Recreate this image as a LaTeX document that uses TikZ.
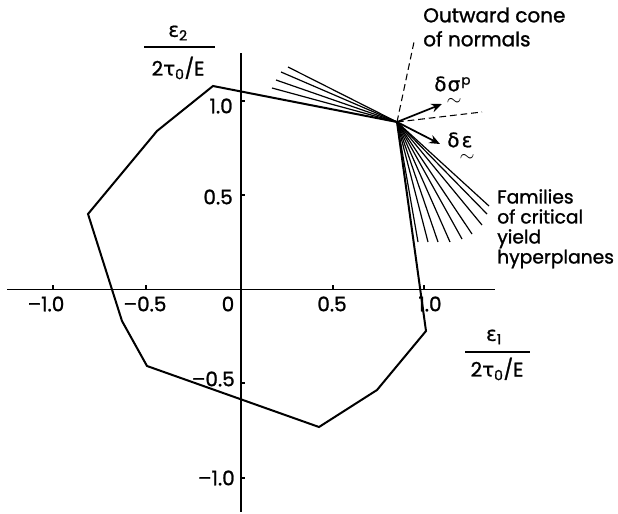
\documentclass[tikz,border=0pt]{standalone}
\usepackage{amsmath}
\usepackage{fontspec}
\setmainfont{Poppins}[FakeBold=1.2]
\newfontfamily\gr{DejaVu Sans}[FakeBold=0.8]
\usetikzlibrary{arrows.meta}
\newcommand{\undertilde}[1]{\ensuremath{\underset{\raisebox{-2pt}{$\textstyle\sim$}}{\hbox{#1}}}}
\begin{document}
\begin{tikzpicture}[x=0.75pt,y=-0.75pt,
  axis/.style={line width=0.8pt},
  tickmark/.style={line width=0.8pt},
  poly/.style={line width=1.5pt, line join=miter},
  fan/.style={line width=0.9pt},
  cone/.style={dash pattern=on 5pt off 3pt, line width=0.8pt},
  vec/.style={-{Stealth[length=8pt,width=6.5pt]}, line width=1.3pt},
  lbl/.style={font=\fontsize{15}{18}\selectfont, inner sep=0pt},
  num/.style={font=\fontsize{15}{18}\selectfont, inner sep=0pt}]
\useasboundingbox (0,0) rectangle (618,514);
% axes
\coordinate (xl) at (7,289.5);
\coordinate (xr) at (495,289.5);
\coordinate (yt) at (241,53);
\coordinate (yb) at (241,512);
\draw[axis] (xl) -- (xr);
\draw[axis] (yt) -- (yb);
% ticks
\foreach \x in {53,146,333,424} \draw[tickmark] (\x,289.5) -- ++(0,-5);
\foreach \y in {101,195,383,478} \draw[tickmark] (241,\y) -- ++(4,0);
% tick labels
\node[num] (xm10) at (46,304) {–1.0};
\node[num] (xm05) at (145,304) {–0.5};
\node[num] (x0) at (228,304) {0};
\node[num] (x05) at (332,304) {0.5};
\node[num] (x10) at (430,304) {1.0};
\node[num, anchor=east] (y10) at (233,106) {1.0};
\node[num, anchor=east] (y05) at (233,197) {0.5};
\node[num, anchor=east] (ym05) at (235,379) {–0.5};
\node[num, anchor=east] (ym10) at (235,478) {–1.0};
% axis titles
\node[lbl] (e2) at (178,33) {{\gr ε}\textsubscript{2}};
\node[lbl] (d2) at (178,68) {2{\gr τ}\textsubscript{0}/E};
\coordinate (b2l) at (144,47); \coordinate (b2r) at (215,47);
\draw[axis] (b2l) -- (b2r);
\node[lbl] (e1) at (494,337) {{\gr ε}\textsubscript{1}};
\node[lbl] (d1) at (497,369) {2{\gr τ}\textsubscript{0}/E};
\coordinate (b1l) at (465,352); \coordinate (b1r) at (530,352);
\draw[axis] (b1l) -- (b1r);
% polygon
\coordinate (C) at (397,122);
\coordinate (v1) at (426,331);
\coordinate (v2) at (377,390);
\coordinate (v3) at (319,427);
\coordinate (v4) at (147,366);
\coordinate (v5) at (122,321);
\coordinate (v6) at (88,214);
\coordinate (v7) at (157,131);
\coordinate (v8) at (213,86);
\draw[poly] (C) -- (v1) -- (v2) -- (v3) -- (v4) -- (v5) -- (v6) -- (v7) -- (v8) -- cycle;
% fans
\foreach \a/\b [count=\i] in {288/67,281/72,276/80,272/88} {
  \coordinate (t\i) at (\a,\b);
  \draw[fan] (C) -- (t\i);
}
\foreach \a/\b [count=\i] in {489/206,487/214,482/225,472/234,462/239,450/242,438/242,428/242,418/242} {
  \coordinate (f\i) at (\a,\b);
  \draw[fan] (C) -- (f\i);
}
% cone of normals
\coordinate (n1) at (414,42);
\coordinate (n2) at (482,112);
\draw[cone] (C) -- (n1);
\draw[cone] (C) -- (n2);
% vectors
\coordinate (s) at (442,104);
\coordinate (e) at (440,144);
\draw[vec] (C) -- (s);
\draw[vec] (C) -- (e);
\node[lbl, anchor=west] (ls) at (434,92) {{\gr δ}\undertilde{\gr σ}\raisebox{0.6ex}{\fontsize{10}{10}\selectfont p}};
\node[lbl, anchor=west] (le) at (447,148) {{\gr δ}\undertilde{\gr ε}};
% texts
\node[lbl, anchor=west, align=left, font=\fontsize{15}{18}\selectfont] (cone) at (423,27) {Outward cone\\ of normals};
\node[lbl, anchor=north west, align=left, font=\fontsize{14}{15}\selectfont] (fam) at (497,189) {Families\\of critical\\yield\\hyperplanes};
\end{tikzpicture}
\end{document}
